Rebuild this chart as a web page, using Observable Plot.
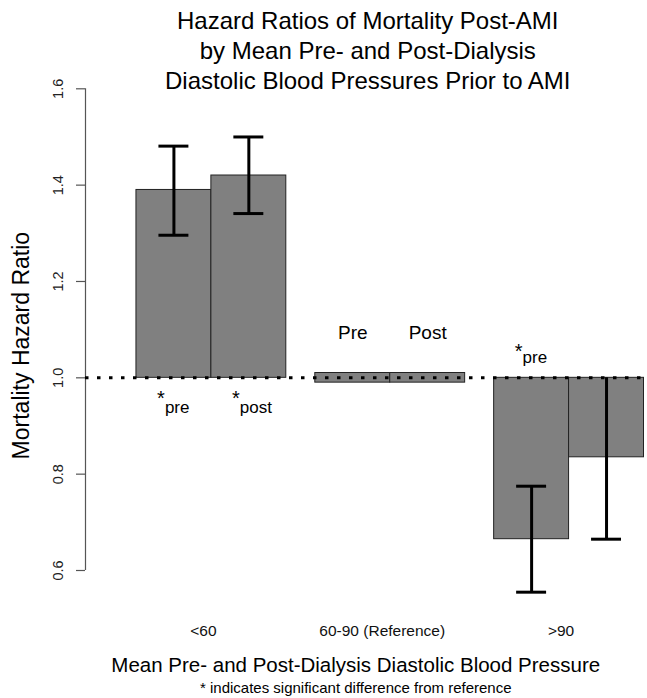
<!DOCTYPE html>
<html>
<head>
<meta charset="utf-8">
<script src="https://cdn.jsdelivr.net/npm/d3@7"></script>
<script src="https://cdn.jsdelivr.net/npm/@observablehq/plot@0.6"></script>
<style>
  html, body { margin: 0; padding: 0; background: white; }
</style>
</head>
<body>
<div id="chart"></div>
<script>
// ---- data ----
const groups = ["<60", "60-90 (Reference)", ">90"];
const series = ["pre", "post"];
const refLabels = ["Pre", "Post"];
const hrPre = [1.39, 1.00, 0.665];
const hrPost = [1.42, 1.00, 0.835];
const ciLowPre = [1.296, null, 0.555];
const ciHighPre = [1.481, null, 0.775];
const ciLowPost = [1.341, null, 0.665];
const ciHighPost = [1.50, null, 1.00];
const sigPre = [true, false, true];
const sigPost = [true, false, false];
const yTicks = [0.6, 0.8, 1.0, 1.2, 1.4, 1.6];
const titleLines = [
  "Hazard Ratios of Mortality Post-AMI",
  "by Mean Pre- and Post-Dialysis",
  "Diastolic Blood Pressures Prior to AMI"
];
const yTitle = "Mortality Hazard Ratio";
const xTitle = "Mean Pre- and Post-Dialysis Diastolic Blood Pressure";
const caption = "* indicates significant difference from reference";
const refGroup = 1;      // index of the reference category
const baseline = 1.0;    // hazard ratio of the reference

// ---- layout (bar units) ----
const leftPad = 0.68;    // space before the first group
const gap = 0.387;       // space between groups
const xMax = leftPad + (groups.length - 1) * (2 + gap) + 2;
const refBand = 0.01;    // half-thickness of the reference bars
const capHalf = 0.2;     // half-width of error bar caps

const hr = [hrPre, hrPost];
const lo = [ciLowPre, ciLowPost];
const hi = [ciHighPre, ciHighPost];
const sig = [sigPre, sigPost];

const bars = groups.flatMap((g, gi) => series.map((s, sj) => {
  const x1 = leftPad + gi * (2 + gap) + sj;
  return {
    group: g, series: s, gi, sj, x1, x2: x1 + 1, xc: x1 + 0.5,
    hr: hr[sj][gi], lo: lo[sj][gi], hi: hi[sj][gi], sig: sig[sj][gi],
    ref: gi === refGroup, refLabel: refLabels[sj]
  };
}));
const mainBars = bars.filter(d => !d.ref);
const refBars = bars.filter(d => d.ref);
const errBars = bars.filter(d => d.lo != null);
const capsLow = errBars.map(d => ({xc: d.xc, v: d.lo}));
const capsHigh = errBars.filter(d => d.hi !== baseline).map(d => ({xc: d.xc, v: d.hi}));
const sigBelow = bars.filter(d => d.sig && d.hr > baseline);
const sigAbove = bars.filter(d => d.sig && d.hr < baseline);
const groupCenters = groups.map((g, gi) => ({label: g, x: leftPad + gi * (2 + gap) + 1}));

const font = "'Liberation Sans', Arial, Helvetica, sans-serif";

const chart = Plot.plot({
  width: 647,
  height: 698,
  marginTop: 88.3,
  marginBottom: 128,
  marginLeft: 85,
  marginRight: 3.5,
  x: {domain: [0, xMax], axis: null},
  y: {domain: [yTicks[0], yTicks[yTicks.length - 1]], axis: null},
  style: {fontFamily: font, background: "white", overflow: "visible"},
  marks: [
    // y axis line
    Plot.ruleX([0], {y1: yTicks[0], y2: yTicks[yTicks.length - 1], stroke: "#555", strokeWidth: 1.2}),
    Plot.axisY({
      ticks: yTicks, tickFormat: d3.format(".1f"), tickSize: 9, tickPadding: 18,
      tickRotate: -90, textAnchor: "middle", lineAnchor: "middle",
      fontSize: 14.5, fill: "#222", stroke: "#555", strokeWidth: 1.2, label: null
    }),
    // bars hanging from HR = 1
    Plot.rect(mainBars, {x1: "x1", x2: "x2", y1: baseline, y2: "hr", fill: "#808080", stroke: "#222", strokeWidth: 1}),
    Plot.rect(refBars, {x1: "x1", x2: "x2", y1: d => d.hr - refBand, y2: d => d.hr + refBand, fill: "#808080", stroke: "#222", strokeWidth: 1}),
    // dotted reference line
    Plot.ruleY([baseline], {stroke: "black", strokeWidth: 3, strokeDasharray: "3.5,8.5"}),
    // error bars
    Plot.ruleX(errBars, {x: "xc", y1: "lo", y2: "hi", stroke: "black", strokeWidth: 3}),
    Plot.ruleY(capsLow, {y: "v", x1: d => d.xc - capHalf, x2: d => d.xc + capHalf, stroke: "black", strokeWidth: 3}),
    Plot.ruleY(capsHigh, {y: "v", x1: d => d.xc - capHalf, x2: d => d.xc + capHalf, stroke: "black", strokeWidth: 3}),
    // reference labels
    Plot.text(refBars, {x: "xc", y: baseline, text: "refLabel", dy: -39, lineAnchor: "bottom", fontSize: 19, fill: "black"}),
    // significance labels
    Plot.text(sigBelow, {x: "xc", y: baseline, text: "series", dx: -9, dy: 35, textAnchor: "start", lineAnchor: "bottom", fontSize: 17, fill: "black"}),
    Plot.text(sigBelow, {x: "xc", y: baseline, text: () => "*", dx: -13, dy: 27.5, textAnchor: "middle", lineAnchor: "bottom", fontSize: 20, fill: "black"}),
    Plot.text(sigAbove, {x: "xc", y: baseline, text: "series", dx: -9, dy: -15, textAnchor: "start", lineAnchor: "bottom", fontSize: 17, fill: "black"}),
    Plot.text(sigAbove, {x: "xc", y: baseline, text: () => "*", dx: -13, dy: -19.5, textAnchor: "middle", lineAnchor: "bottom", fontSize: 20, fill: "black"}),
    // category labels
    Plot.text(groupCenters, {x: "x", text: "label", frameAnchor: "bottom", dy: 65, dx: -8, lineAnchor: "bottom", fontSize: 15.5, fill: "#111"}),
    // titles
    Plot.text([titleLines.join("\n")], {frameAnchor: "top", dx: 3, dy: 0, lineAnchor: "bottom", lineHeight: 1.25, fontSize: 24, fill: "black"}),
    Plot.text([yTitle], {frameAnchor: "left", dx: -64, dy: 16, rotate: -90, textAnchor: "middle", lineAnchor: "middle", fontSize: 23, fill: "black"}),
    Plot.text([xTitle], {frameAnchor: "bottom", dx: -9, dy: 101, lineAnchor: "bottom", fontSize: 20.5, fill: "black"}),
    Plot.text([caption], {frameAnchor: "bottom", dx: -9, dy: 122, lineAnchor: "bottom", fontSize: 15, fill: "black"})
  ]
});
document.getElementById("chart").appendChild(chart);
</script>
</body>
</html>
